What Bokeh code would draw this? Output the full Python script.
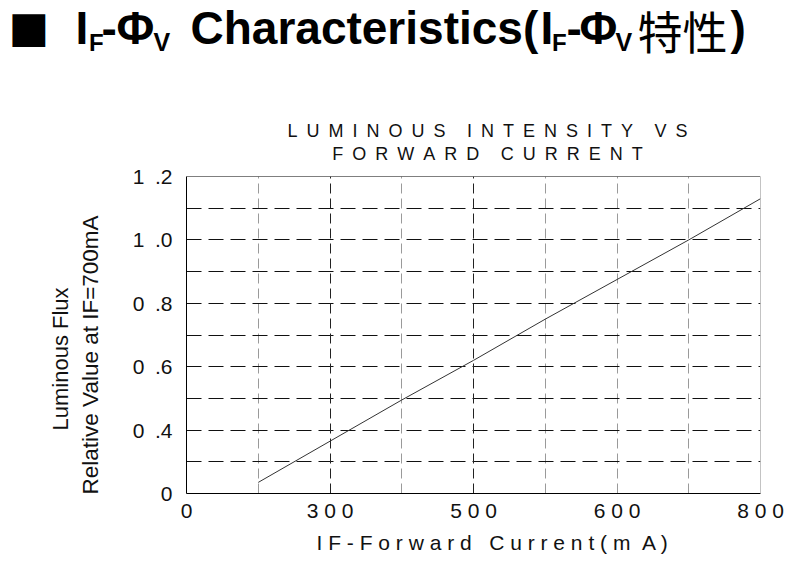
from bokeh.plotting import figure
from bokeh.models import Range1d, FixedTicker, Grid, Span
from bokeh.layouts import column, row
from bokeh.core.properties import value
from bokeh.embed import file_html
from bokeh.resources import INLINE

# ---- data ----
current_ma = [100, 200, 300, 400, 500, 600, 700, 800]
rel_flux = [0.235, 0.365, 0.495, 0.62, 0.75, 0.875, 1.0, 1.13]

x_ticks = [0, 200, 400, 600, 800]
x_tick_labels = ["0", "3 0 0", "5 0 0", "6 0 0", "8 0 0"]
y_ticks = [0.2, 0.4, 0.6, 0.8, 1.0, 1.2]
y_tick_labels = ["0", "0\u2002.4", "0\u2002.6", "0\u2002.8", "1\u2002.0", "1\u2002.2"]
x_grid_gray = [100, 300, 500, 600, 700]
x_grid_black = [200, 400]
y_grid = [0.3, 0.4, 0.5, 0.6, 0.7, 0.8, 0.9, 1.0, 1.1]

headline = ["\u25A0", "I", "F", "-", "\u03A6", "V", "Characteristics(",
            "I", "F", "-", "\u03A6", "V", "特性", ")"]
chart_title = [["LUMINOUS", "INTENSITY", "VS"], ["FORWARD", "CURRENT"]]
y_title = ["Luminous Flux", "Relative Value at IF=700mA"]
x_title = "I F - F o r w a r d\u00a0\u00a0\u00a0C u r r e n t ( m\u00a0\u00a0A )"

FONT = "Liberation Sans"
W, H = 800, 578
FL, FR, FT, FB = 186, 760, 176, 494     # plot frame edges (page px)
HEAD_H = FT - 12                        # header strip height
MID_Y1 = FB + 30                        # bottom of middle band
FOOT_H = H - MID_Y1
MID_H = MID_Y1 - HEAD_H
LEFT_W = 110


def text_fig(w, h, x0, y0, top=0, bottom=0):
    f = figure(width=w, height=h, output_backend="svg", toolbar_location=None,
               x_range=Range1d(x0, x0 + w), y_range=Range1d(y0 + h - bottom, y0 + top),
               x_axis_type=None, y_axis_type=None,
               min_border_left=0, min_border_right=0,
               min_border_top=top, min_border_bottom=bottom)
    f.outline_line_color = None
    f.grid.visible = False
    f.background_fill_color = "white"
    f.border_fill_color = "white"
    return f


def txt(f, text, x, y, size, font=FONT, style="normal", align="left",
        baseline="middle", angle=0.0, color="#111111"):
    f.text(x=[x], y=[y], text=[text], text_font=value(font),
           text_font_size=f"{size}px", text_font_style=style, text_align=align,
           text_baseline=baseline, angle=angle, text_color=color)


# ---- header strip ----
head = text_fig(W, HEAD_H, 0, 0)
MID = 27.5
pieces = [
    (headline[0], 8, 26, 43, "DejaVu Sans", "normal"),
    (headline[1], 75, MID, 46, FONT, "bold"),
    (headline[2], 88.5, 41.5, 24, FONT, "bold"),
    (headline[3], 101, MID, 46, FONT, "bold"),
    (headline[4], 116, MID, 46, FONT, "bold"),
    (headline[5], 153, 41, 25, FONT, "bold"),
    (headline[6], 190, MID, 46, FONT, "bold"),
    (headline[7], 540, MID, 46, FONT, "bold"),
    (headline[8], 551.5, 41.5, 24, FONT, "bold"),
    (headline[9], 566, MID, 46, FONT, "bold"),
    (headline[10], 579, MID, 46, FONT, "bold"),
    (headline[11], 615, 41, 25, FONT, "bold"),
    (headline[12], 637, MID + 2, 45, "Noto Sans CJK SC", "normal"),
    (headline[13], 730, MID, 46, FONT, "bold"),
]
for t, x, y, s, fnt, st in pieces:
    txt(head, t, x, y, s, font=fnt, style=st, color="black")

sp = "\u2002"
wsp = "\u2002\u2002\u2009"
for i, words in enumerate(chart_title):
    line = wsp.join(sp.join(w) for w in words)
    txt(head, line, 487, 130 + 23 * i, 18, align="center")

# ---- left strip (y title) ----
left = text_fig(LEFT_W, MID_H, 0, HEAD_H, top=FT - HEAD_H, bottom=MID_Y1 - FB)
txt(left, y_title[0], 59.5, 359, 22, align="center", angle=1.5707963)
txt(left, y_title[1], 90, 355, 22.5, align="center", angle=1.5707963)

# ---- main chart ----
p = figure(width=W - LEFT_W, height=MID_H, output_backend="svg", toolbar_location=None,
           x_range=Range1d(0, 800), y_range=Range1d(0.2, 1.2),
           min_border_left=FL - LEFT_W, min_border_right=W - FR,
           min_border_top=FT - HEAD_H, min_border_bottom=MID_Y1 - FB)
p.background_fill_color = "white"
p.border_fill_color = "white"
p.outline_line_color = None

p.line(current_ma, rel_flux, line_color="#333333", line_width=1)

for ax in (p.xaxis[0], p.yaxis[0]):
    ax.major_tick_line_color = None
    ax.minor_tick_line_color = None
    ax.major_tick_out = 0
    ax.major_tick_in = 0
    ax.minor_tick_out = 0
    ax.axis_line_color = "black"
    ax.axis_line_width = 1
    ax.major_label_text_font = FONT
    ax.major_label_text_font_size = "21px"
    ax.major_label_text_color = "#111111"

p.xaxis.ticker = FixedTicker(ticks=x_ticks)
p.xaxis.major_label_overrides = dict(zip(x_ticks, x_tick_labels))
p.xaxis.major_label_standoff = 5
p.yaxis.ticker = FixedTicker(ticks=y_ticks)
p.yaxis.major_label_overrides = dict(zip(y_ticks, y_tick_labels))
p.yaxis.major_label_standoff = 14

p.xgrid.ticker = FixedTicker(ticks=x_grid_gray)
p.xgrid.grid_line_color = "#9a9a9a"
p.xgrid.grid_line_dash = "10 5"
p.xgrid.grid_line_width = 1
p.add_layout(Grid(dimension=0, ticker=FixedTicker(ticks=x_grid_black),
                  grid_line_color="#222222", grid_line_dash="10 5", grid_line_width=1))
p.ygrid.ticker = FixedTicker(ticks=y_grid)
p.ygrid.grid_line_color = "#111111"
p.ygrid.grid_line_dash = "15 7"
p.ygrid.grid_line_width = 1

p.add_layout(Span(location=1.2, dimension="width", line_color="black", line_width=1))
p.add_layout(Span(location=800, dimension="height", line_color="#888888", line_width=1))

# ---- footer strip (x title) ----
foot = text_fig(W, FOOT_H, 0, MID_Y1)
txt(foot, x_title, 316, 541.5, 21)

layout = column(head, row(left, p), foot)
open("out.html", "w").write(file_html(layout, INLINE))
